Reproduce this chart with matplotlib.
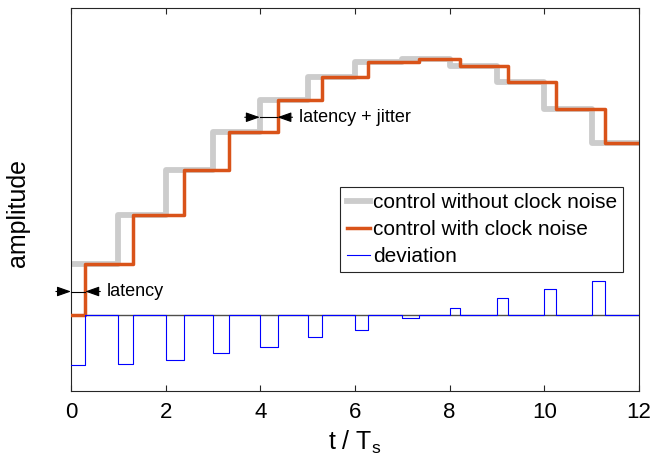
import matplotlib
matplotlib.use("Agg")
import matplotlib.pyplot as plt
import numpy as np

plt.rcParams['font.family'] = ['Liberation Sans', 'DejaVu Sans']

# control output per sample period (no clock noise)
levels = [0.202, 0.398, 0.578, 0.730, 0.858, 0.948, 1.008, 1.022, 0.994, 0.928, 0.824, 0.688]
# delay of each update (latency + jitter), in T_s
delays = [0.30, 0.32, 0.39, 0.33, 0.37, 0.30, 0.28, 0.36, 0.22, 0.24, 0.25, 0.28]
n = len(levels)

# ideal staircase
t_ideal = np.arange(n + 1)
y_ideal = levels + [levels[-1]]

# delayed staircase
t_noisy = [0.0] + [k + delays[k] for k in range(n)] + [n]
y_noisy = [0.0] + levels + [levels[-1]]

# deviation = noisy - ideal
t_dev, y_dev = [], []
prev = 0.0
for k in range(n):
    t_dev += [k, k + delays[k]]
    y_dev += [prev - levels[k], 0.0]
    prev = levels[k]
t_dev.append(n)
y_dev.append(0.0)

fig = plt.figure(figsize=(6.63, 4.66), dpi=100)
ax = fig.add_axes([71 / 663, 75 / 466, 568 / 663, 383 / 466])

ax.axhline(0, color='0.3', lw=1.0, zorder=1)
ax.plot(t_ideal, y_ideal, drawstyle='steps-post', color='#cccccc', lw=4.2,
        label='control without clock noise', zorder=2)
ax.plot(t_noisy, y_noisy, drawstyle='steps-post', color='#d95319', lw=2.5,
        label='control with clock noise', zorder=3)
ax.plot(t_dev, y_dev, drawstyle='steps-post', color='#0000ff', lw=0.8,
        label='deviation', zorder=4)

ax.set_xlim(0, 12)
ax.set_ylim(-0.306, 1.226)
ax.set_xticks(range(0, 13, 2))
ax.set_yticks([])
ax.tick_params(axis='x', direction='in', top=True, length=4.5, width=0.8,
               color='#262626', labelsize=16, pad=8)
for s in ax.spines.values():
    s.set_color('#262626')
    s.set_linewidth(0.8)

ax.set_xlabel('t / T$_\\mathregular{s}$', fontsize=18, labelpad=4)
ax.set_ylabel('amplitude', fontsize=18)
ax.yaxis.set_label_coords(-0.072, 0.465)

ap = dict(arrowstyle='-|>,head_length=0.85,head_width=0.3', color='k', lw=0.8,
          shrinkA=0, shrinkB=0)


def gap_marker(x0, x1, y, text):
    w = 0.32
    ax.annotate('', xy=(x0, y), xytext=(x0 - w, y), arrowprops=ap,
                annotation_clip=False)
    ax.annotate('', xy=(x1, y), xytext=(x1 + w, y), arrowprops=ap,
                annotation_clip=False)
    ax.plot([x0, x1], [y, y], color='k', lw=0.8, clip_on=False, zorder=5)
    ax.text(x1 + 0.45, y, text, fontsize=13, va='center', ha='left')


gap_marker(0.0, 0.30, 0.092, 'latency')
gap_marker(3.99, 4.36, 0.789, 'latency + jitter')

leg = ax.legend(loc='upper right', bbox_to_anchor=(0.972, 0.533), borderaxespad=0,
                fontsize=15, fancybox=False, framealpha=1, edgecolor='#262626',
                handlelength=1.1, handletextpad=0.15, borderpad=0.3,
                labelspacing=0.38)
leg.get_frame().set_linewidth(0.8)

fig.savefig('out.png', dpi=100)
